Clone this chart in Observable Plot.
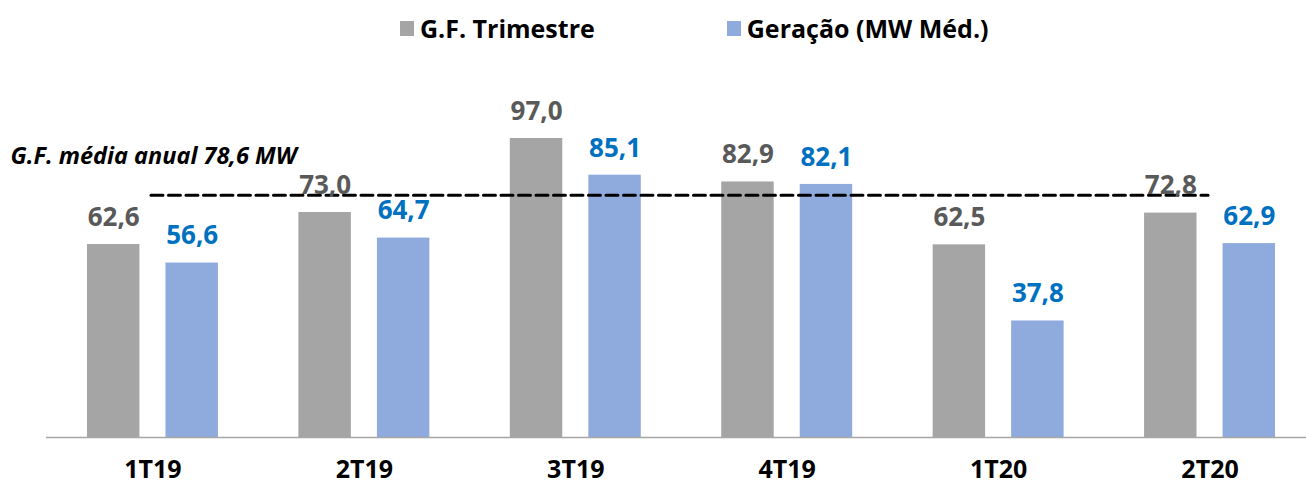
<!DOCTYPE html>
<html>
<head>
<meta charset="utf-8">
<script src="https://cdn.jsdelivr.net/npm/d3@7"></script>
<script src="https://cdn.jsdelivr.net/npm/@observablehq/plot@0.6"></script>
<style>
  html, body { margin: 0; padding: 0; background: white; }
  body { width: 1306px; height: 487px; overflow: hidden; font-family: "Open Sans", "Noto Sans", sans-serif; }
  #legend { height: 56px; display: flex; align-items: center; padding-left: 400px; box-sizing: border-box; }
  .item { display: flex; align-items: center; font-weight: bold; font-size: 25px; color: #000; }
  .sw { width: 14px; height: 15px; margin-right: 6px; }
</style>
</head>
<body>
<div id="legend"></div>
<div id="chart"></div>
<script>
const categories = ["1T19", "2T19", "3T19", "4T19", "1T20", "2T20"];
const gfTrimestre = [62.6, 73.0, 97.0, 82.9, 62.5, 72.8];
const geracao = [56.6, 64.7, 85.1, 82.1, 37.8, 62.9];
const gfMediaAnual = 78.6;
const seriesNames = ["G.F. Trimestre", "Geração (MW Méd.)"];
const seriesColors = ["#A5A5A5", "#8FAADC"];
const labelColors = ["#595959", "#0070C0"];

const fmt = v => d3.format(".1f")(v).replace(".", ",");
const rows = categories.map((c, i) => ({cat: c, gf: gfTrimestre[i], ger: geracao[i]}));

// legend
const legend = document.getElementById("legend");
seriesNames.forEach((name, i) => {
  const item = document.createElement("div");
  item.className = "item";
  if (i > 0) item.style.marginLeft = "132px";
  const sw = document.createElement("span");
  sw.className = "sw";
  sw.style.background = seriesColors[i];
  item.appendChild(sw);
  item.appendChild(document.createTextNode(name));
  legend.appendChild(item);
});

const chart = Plot.plot({
  width: 1306,
  height: 431,
  marginLeft: 46,
  marginRight: 0,
  marginTop: 72.75,
  marginBottom: 50,
  style: {fontFamily: "'Open Sans', 'Noto Sans', sans-serif", background: "white"},
  x: {domain: categories, range: [46.75, 1315.25], paddingInner: 0.3806, paddingOuter: 0.1903, round: false},
  y: {domain: [0, 100], axis: null},
  marks: [
    Plot.barY(rows, {x: "cat", y: "gf", fill: seriesColors[0], insetRight: 78.5}),
    Plot.barY(rows, {x: "cat", y: "ger", fill: seriesColors[1], insetLeft: 78.5}),
    Plot.ruleY([0], {stroke: "#A6A6A6", strokeWidth: 1.5}),
    Plot.lineY([categories[0], categories[categories.length - 1]], {
      x: d => d, y: () => gfMediaAnual, stroke: "black", strokeWidth: 3, strokeDasharray: "12,5.5", dx: -2
    }),
    Plot.text(rows, {x: "cat", y: "gf", text: d => fmt(d.gf), dx: -39.25, dy: -27,
      fill: labelColors[0], fontSize: 26, fontWeight: "bold"}),
    Plot.text(rows, {x: "cat", y: "ger", text: d => fmt(d.ger), dx: 39.25, dy: -27,
      fill: labelColors[1], fontSize: 26, fontWeight: "bold"}),
    Plot.text([`G.F. média anual ${fmt(gfMediaAnual)} MW`], {
      frameAnchor: "left", y: () => gfMediaAnual, text: d => d, dx: -36, dy: -38.5,
      textAnchor: "start", fontSize: 23.5, fontWeight: "bold", fontStyle: "italic", fill: "black"
    }),
    Plot.axisX({tickSize: 0, tickPadding: 23, fontSize: 25, fontWeight: "bold", fill: "black", label: null})
  ]
});
document.getElementById("chart").appendChild(chart);
</script>
</body>
</html>
